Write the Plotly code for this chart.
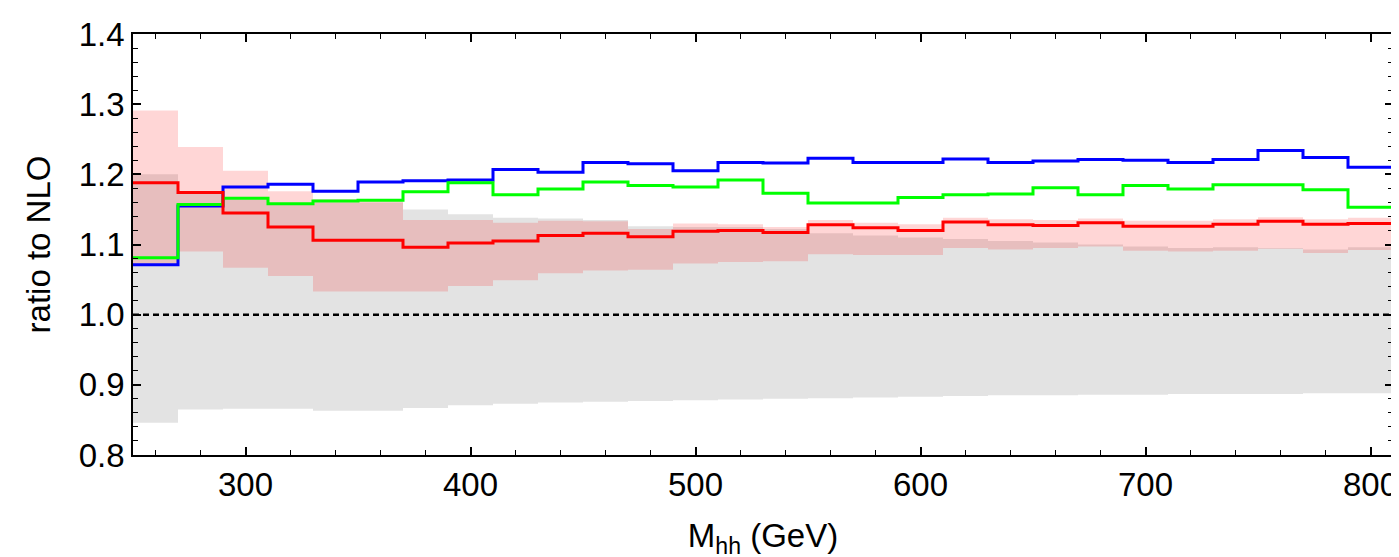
import plotly.graph_objects as go

# Bin edges (GeV)
bin_edges = [250, 270, 290, 310, 330, 350, 370, 390, 410, 430, 450, 470, 490, 510, 530,
             550, 570, 590, 610, 630, 650, 670, 690, 710, 730, 750, 770, 790, 810]

blue = [1.071, 1.155, 1.182, 1.186, 1.176, 1.189, 1.191, 1.192, 1.207, 1.203, 1.217, 1.215, 1.205, 1.217,
        1.216, 1.223, 1.217, 1.217, 1.222, 1.217, 1.219, 1.221, 1.220, 1.217, 1.221, 1.234, 1.224, 1.210]
green = [1.081, 1.157, 1.166, 1.158, 1.162, 1.163, 1.175, 1.188, 1.171, 1.179, 1.189, 1.184, 1.182, 1.192,
         1.173, 1.159, 1.159, 1.167, 1.171, 1.172, 1.181, 1.171, 1.184, 1.179, 1.185, 1.185, 1.178, 1.153]
red = [1.188, 1.174, 1.145, 1.125, 1.106, 1.106, 1.096, 1.102, 1.105, 1.113, 1.116, 1.111, 1.119, 1.120,
       1.117, 1.128, 1.124, 1.120, 1.132, 1.128, 1.127, 1.131, 1.126, 1.126, 1.129, 1.133, 1.129, 1.130]
red_hi = [1.291, 1.239, 1.205, 1.176, 1.165, 1.165, 1.135, 1.135, 1.131, 1.134, 1.133, 1.122, 1.130, 1.129,
          1.125, 1.135, 1.131, 1.129, 1.138, 1.136, 1.135, 1.137, 1.134, 1.134, 1.136, 1.139, 1.136, 1.138]
red_lo = [1.071, 1.090, 1.067, 1.055, 1.033, 1.033, 1.033, 1.041, 1.049, 1.059, 1.063, 1.064, 1.073, 1.075,
          1.076, 1.086, 1.085, 1.085, 1.095, 1.093, 1.095, 1.097, 1.091, 1.090, 1.091, 1.094, 1.088, 1.092]
grey_hi = [1.200, 1.172, 1.164, 1.157, 1.160, 1.160, 1.150, 1.143, 1.138, 1.137, 1.135, 1.126, 1.125, 1.125,
           1.122, 1.116, 1.113, 1.110, 1.108, 1.105, 1.103, 1.100, 1.097, 1.095, 1.096, 1.095, 1.093, 1.096]
grey_lo = [0.846, 0.865, 0.866, 0.866, 0.863, 0.863, 0.867, 0.871, 0.873, 0.875, 0.876, 0.877, 0.878, 0.879,
           0.880, 0.881, 0.882, 0.883, 0.884, 0.885, 0.885, 0.886, 0.886, 0.887, 0.887, 0.887, 0.888, 0.888]
reference = [1.0, 1.0]
ref_x = [bin_edges[0], bin_edges[-1]]

x_ticks = [300, 400, 500, 600, 700, 800]
y_ticks = [0.8, 0.9, 1.0, 1.1, 1.2, 1.3, 1.4]


def step(vals):
    return vals + [vals[-1]]


FONT = "Liberation Sans, Arial, Helvetica, sans-serif"

fig = go.Figure()
# grey band
fig.add_trace(go.Scatter(x=bin_edges, y=step(grey_lo), mode="lines", line=dict(width=0, shape="hv"),
                         showlegend=False, hoverinfo="skip"))
fig.add_trace(go.Scatter(x=bin_edges, y=step(grey_hi), mode="lines", line=dict(width=0, shape="hv"),
                         fill="tonexty", fillcolor="rgb(227,227,227)", showlegend=False, hoverinfo="skip"))
# pink band
fig.add_trace(go.Scatter(x=bin_edges, y=step(red_lo), mode="lines", line=dict(width=0, shape="hv"),
                         showlegend=False, hoverinfo="skip"))
fig.add_trace(go.Scatter(x=bin_edges, y=step(red_hi), mode="lines", line=dict(width=0, shape="hv"),
                         fill="tonexty", fillcolor="rgba(255,0,0,0.16)", showlegend=False, hoverinfo="skip"))
# reference line
fig.add_trace(go.Scatter(x=ref_x, y=reference, mode="lines",
                         line=dict(color="black", width=2.5, dash="6px,4px"), showlegend=False))
# curves
for vals, col in [(blue, "#0000ff"), (green, "#00ff00"), (red, "#ff0000")]:
    fig.add_trace(go.Scatter(x=bin_edges, y=step(vals), mode="lines",
                             line=dict(color=col, width=3, shape="hv"), showlegend=False))

axis_common = dict(showline=True, linecolor="black", linewidth=1.5, mirror="ticks",
                   ticks="inside", tickcolor="black", tickwidth=1.5, showgrid=False, zeroline=False,
                   automargin=False,
                   tickfont=dict(family=FONT, size=33, color="black"))

fig.update_xaxes(range=[bin_edges[0], bin_edges[-1]], tickvals=x_ticks, ticklen=8,
                 minor=dict(ticks="inside", dtick=20, tick0=300, ticklen=5, tickcolor="black", tickwidth=1.3,
                            showgrid=False),
                 title=dict(text="M<sub>hh</sub> (GeV)", font=dict(family=FONT, size=33, color="black"),
                            standoff=22),
                 **axis_common)
fig.update_yaxes(range=[0.8, 1.4], tickvals=y_ticks, tickformat=".1f", ticklen=8,
                 minor=dict(ticks="inside", dtick=0.02, tick0=0.8, ticklen=5, tickcolor="black", tickwidth=1.3,
                            showgrid=False),
                 title=dict(text="ratio to NLO", font=dict(family=FONT, size=33, color="black"), standoff=18),
                 **axis_common)

fig.update_layout(template="none", width=1399, height=557, margin=dict(l=125, r=14, t=26, b=110),
                  plot_bgcolor="white", paper_bgcolor="white")

fig.write_html("out.html")
